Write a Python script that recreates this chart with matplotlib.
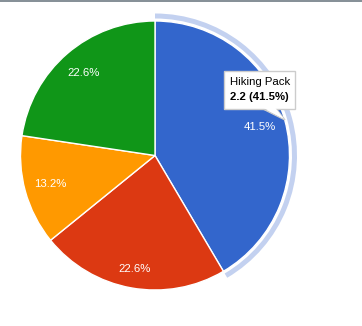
import numpy as np
import matplotlib.pyplot as plt
from matplotlib.patches import Wedge, Polygon, Rectangle

plt.rcParams['font.family'] = ['Liberation Sans', 'DejaVu Sans']

# data
names = ['Hiking Pack', 'Tent', 'Stove', 'Sleeping Bag']
values = [2.2, 1.2, 0.7, 1.2]
colors = ['#3366cc', '#dc3912', '#ff9900', '#109618']

W, H = 362, 326
fig = plt.figure(figsize=(W / 100, H / 100), dpi=100)
ax = fig.add_axes([0, 0, 1, 1])
ax.set_xlim(0, W)
ax.set_ylim(0, H)
ax.set_aspect('equal')
ax.axis('off')

cx, cy, r = 155, H - 155.5, 134.5
total = sum(values)

wedges, texts, autotexts = ax.pie(values, colors=colors, startangle=90, counterclock=False,
                                  center=(cx, cy), radius=r, autopct='%.1f%%', pctdistance=0.81,
                                  wedgeprops=dict(edgecolor='white', linewidth=1),
                                  textprops=dict(color='white', fontsize=8.2))
ax.set_xlim(0, W)
ax.set_ylim(0, H)
autotexts[1].set_position((cx - 20, H - 269))

# highlight ring on hovered slice
sel = 0
a1 = 90
a2 = 90 - values[sel] / total * 360
ax.add_patch(Wedge((cx, cy), 142, a2, a1, width=5, facecolor='#c3d1f0', edgecolor='none'))

# top border line
fig.add_artist(plt.Line2D([0, 1], [1 - 0.5 / H, 1 - 0.5 / H], transform=fig.transFigure,
                          color='#6f7b84', linewidth=1.2))

# tooltip
bx0, bx1, by0, by1 = 223.5, 295, H - 109, H - 70.5
tail = Polygon([(262, by0 + 0.5), (285, H - 120), (276, by0 + 0.5)], closed=True,
               facecolor='white', edgecolor='#cccccc', linewidth=1, zorder=5)
ax.add_patch(tail)
ax.add_patch(Rectangle((bx0, by0), bx1 - bx0, by1 - by0, facecolor='white', edgecolor='#cccccc',
                       linewidth=1, zorder=6))
ax.add_patch(Polygon([(263, by0 + 1.5), (284, H - 119), (275, by0 + 1.5)], closed=True,
                     facecolor='white', edgecolor='none', zorder=7))
pct = values[sel] / total * 100
ax.text(230.5, H - 82, names[sel], fontsize=8.2, color='#000000', va='center', ha='left', zorder=8)
ax.text(230.5, H - 97, '%.1f (%.1f%%)' % (values[sel], pct), fontsize=8.2, fontweight='bold',
        color='#000000', va='center', ha='left', zorder=8)

fig.savefig('out.png', dpi=100, facecolor='white')
